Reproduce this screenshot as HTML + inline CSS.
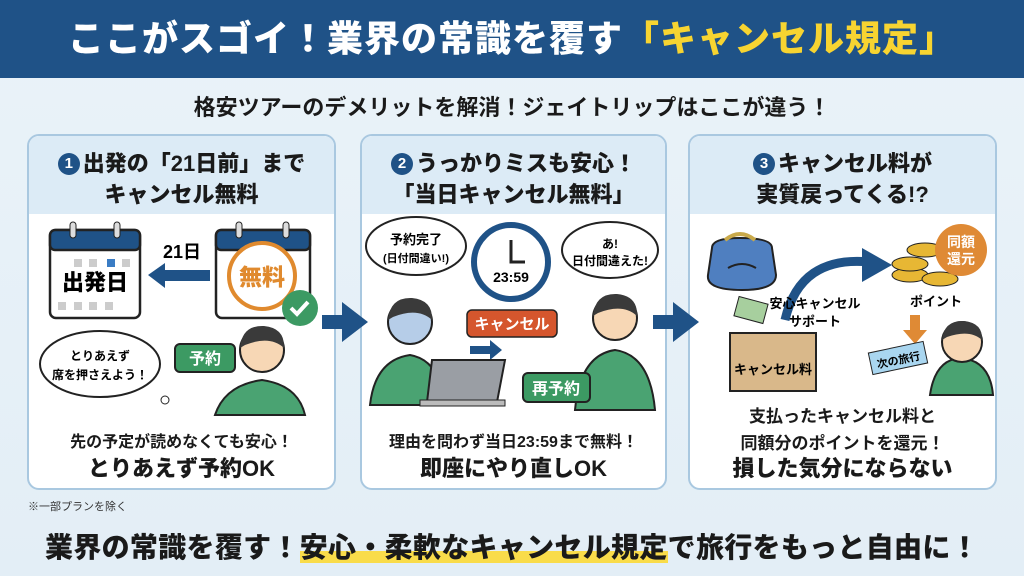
<!DOCTYPE html>
<html><head><meta charset="utf-8">
<style>
*{margin:0;padding:0;box-sizing:border-box}
body{width:1024px;height:576px;overflow:hidden;background:linear-gradient(#eaf3f9,#e3eef6);font-family:"Liberation Sans","Noto Sans CJK JP",sans-serif;position:relative;color:#1a1a1a}
.hdr{position:absolute;left:0;top:0;width:1024px;height:78px;background:#1f5287;color:#fff;font-weight:900;font-size:36px;text-align:center;line-height:78px;letter-spacing:1px}
.hdr span{color:#f7d431}
.sub{position:absolute;left:0;top:90px;width:1024px;text-align:center;font-size:22px;font-weight:700}
.card{position:absolute;top:134px;height:356px;border:2px solid #a9c8e0;border-radius:12px;background:#fff;overflow:hidden}
.card .h{height:78px;background:#dcebf6;text-align:center;font-size:22px;font-weight:800;line-height:31px;padding-top:12px}
.num{display:inline-block;width:22px;height:22px;border-radius:50%;background:#1f5287;color:#fff;font-size:15px;line-height:22px;vertical-align:3px;margin-right:3px}
.t{position:absolute;left:0;width:100%;text-align:center;font-weight:700}
.s{font-size:16px}.b{font-size:22px;font-weight:800}
svg{position:absolute;left:0;top:0}
.note{position:absolute;left:28px;top:498px;font-size:11px;color:#333}
.foot{position:absolute;left:0;top:526px;width:1024px;text-align:center;font-size:28px;font-weight:900;letter-spacing:0.3px}
.foot span{background:linear-gradient(transparent 62%,#f9dc4a 62%)}
</style></head><body>
<div class="hdr">ここがスゴイ！業界の常識を覆す<span>「キャンセル規定」</span></div>
<div class="sub">格安ツアーのデメリットを解消！ジェイトリップはここが違う！</div>

<div class="card" style="left:27px;width:309px"><div class="h"><span class="num">1</span>出発の「21日前」まで<br>キャンセル無料</div>
<div class="t s" style="top:292px">先の予定が読めなくても安心！</div>
<div class="t b" style="top:315px">とりあえず予約OK</div></div>

<div class="card" style="left:360px;width:307px"><div class="h"><span class="num">2</span>うっかりミスも安心！<br>「当日キャンセル無料」</div>
<div class="t s" style="top:292px">理由を問わず当日23:59まで無料！</div>
<div class="t b" style="top:315px">即座にやり直しOK</div></div>

<div class="card" style="left:688px;width:309px"><div class="h"><span class="num">3</span>キャンセル料が<br>実質戻ってくる!?</div>
<div class="t s" style="top:266px;font-size:17px">支払ったキャンセル料と</div>
<div class="t s" style="top:293px;font-size:17px">同額分のポイントを還元！</div>
<div class="t b" style="top:315px">損した気分にならない</div></div>

<svg width="1024" height="576" font-family="Liberation Sans, Noto Sans CJK JP, sans-serif" font-weight="700">
<!-- card1 -->
<rect x="50" y="230" width="90" height="88" rx="6" fill="#fff" stroke="#222" stroke-width="2.5"/>
<rect x="50" y="230" width="90" height="20" rx="5" fill="#1f5287" stroke="#222" stroke-width="2.5"/>
<rect x="70" y="222" width="6" height="16" rx="3" fill="#ddd" stroke="#222"/><rect x="114" y="222" width="6" height="16" rx="3" fill="#ddd" stroke="#222"/>
<g fill="#ccc"><rect x="74" y="259" width="8" height="8"/><rect x="89" y="259" width="8" height="8"/><rect x="122" y="259" width="8" height="8"/><rect x="58" y="302" width="8" height="8"/><rect x="74" y="302" width="8" height="8"/><rect x="89" y="302" width="8" height="8"/><rect x="105" y="302" width="8" height="8"/></g>
<text x="95" y="290" font-size="22" text-anchor="middle" font-weight="900">出発日</text>
<rect x="107" y="259" width="8" height="8" fill="#3a7cc4"/>
<text x="182" y="258" font-size="18" text-anchor="middle">21日</text>
<polygon points="148,275 165,263 165,270 210,270 210,281 165,281 165,288" fill="#1f5287"/>
<rect x="216" y="230" width="94" height="88" rx="6" fill="#fff" stroke="#222" stroke-width="2.5"/>
<rect x="216" y="230" width="94" height="20" rx="5" fill="#1f5287" stroke="#222" stroke-width="2.5"/>
<rect x="236" y="222" width="6" height="16" rx="3" fill="#ddd" stroke="#222"/><rect x="283" y="222" width="6" height="16" rx="3" fill="#ddd" stroke="#222"/>
<circle cx="262" cy="276" r="33" fill="#fff" stroke="#e08a2e" stroke-width="4"/>
<text x="262" y="285" font-size="23" fill="#e08a2e" text-anchor="middle" font-weight="900">無料</text>
<circle cx="300" cy="308" r="18" fill="#3c9a63"/><path d="M291 308l6 6 11-12" stroke="#fff" stroke-width="4" fill="none"/>
<ellipse cx="100" cy="364" rx="60" ry="33" fill="#fff" stroke="#222" stroke-width="2"/><circle cx="165" cy="400" r="4" fill="#fff" stroke="#222"/>
<text x="100" y="360" font-size="12" text-anchor="middle">とりあえず</text><text x="100" y="379" font-size="12" text-anchor="middle">席を押さえよう！</text>
<rect x="175" y="344" width="60" height="28" rx="5" fill="#3c9a63" stroke="#222" stroke-width="2"/><text x="205" y="364" font-size="16" fill="#fff" text-anchor="middle">予約</text>
<path d="M215 415 Q225 385 262 380 Q298 385 305 415Z" fill="#4aa372" stroke="#222" stroke-width="2"/>
<circle cx="262" cy="350" r="22" fill="#f7d7b5" stroke="#222" stroke-width="2"/><path d="M240 348 Q242 325 264 326 Q285 328 284 348 Q270 335 245 345Z" fill="#3a3a3a"/>
<polygon points="322,315 342,315 342,302 368,322 342,342 342,329 322,329" fill="#1f5287"/>
<polygon points="653,315 673,315 673,302 699,322 673,342 673,329 653,329" fill="#1f5287"/>
<!-- card2 -->
<ellipse cx="416" cy="246" rx="50" ry="29" fill="#fff" stroke="#222" stroke-width="2"/>
<text x="416" y="244" font-size="13" text-anchor="middle">予約完了</text><text x="416" y="262" font-size="11" text-anchor="middle">(日付間違い!)</text>
<circle cx="511" cy="262" r="37" fill="#fff" stroke="#1f5287" stroke-width="6"/><path d="M511 240v22h14" stroke="#222" stroke-width="3" fill="none"/>
<text x="511" y="282" font-size="14" text-anchor="middle">23:59</text>
<ellipse cx="610" cy="250" rx="48" ry="28" fill="#fff" stroke="#222" stroke-width="2"/>
<text x="610" y="248" font-size="12" text-anchor="middle">あ!</text><text x="610" y="265" font-size="12" text-anchor="middle">日付間違えた!</text>
<rect x="467" y="310" width="90" height="27" rx="5" fill="#d5562d" stroke="#222" stroke-width="1.5"/><text x="512" y="329" font-size="15" fill="#fff" text-anchor="middle">キャンセル</text>
<polygon points="470,346 490,346 490,340 502,350 490,360 490,354 470,354" fill="#1f5287"/>
<path d="M370 405 Q375 360 410 355 Q440 360 445 405Z" fill="#4aa372" stroke="#222" stroke-width="2"/>
<circle cx="410" cy="322" r="22" fill="#b6cde8" stroke="#222" stroke-width="2"/><path d="M388 320 Q390 297 412 298 Q433 300 432 320 Q418 307 393 317Z" fill="#3a3a3a"/>
<polygon points="432,360 505,360 497,402 427,402" fill="#9a9ea4" stroke="#222" stroke-width="2"/><rect x="420" y="400" width="85" height="6" fill="#bbb" stroke="#222"/>
<path d="M575 410 Q580 355 615 350 Q650 355 655 410Z" fill="#4aa372" stroke="#222" stroke-width="2"/>
<circle cx="615" cy="318" r="22" fill="#f7d7b5" stroke="#222" stroke-width="2"/><path d="M593 316 Q595 293 617 294 Q638 296 637 316 Q623 303 598 313Z" fill="#3a3a3a"/>
<rect x="523" y="373" width="67" height="29" rx="5" fill="#3c9a63" stroke="#222" stroke-width="2"/><text x="556" y="394" font-size="16" fill="#fff" text-anchor="middle">再予約</text>
<!-- card3 -->
<path d="M712 248 Q712 238 740 238 Q772 238 772 248 L776 275 Q776 290 742 290 Q706 290 708 275Z" fill="#4f7fc0" stroke="#222" stroke-width="2"/>
<path d="M725 240 Q740 228 755 240" stroke="#c9a94a" stroke-width="4" fill="none"/>
<path d="M728 268 Q742 260 756 268" stroke="#222" stroke-width="2" fill="none"/>
<rect x="736" y="300" width="30" height="20" fill="#a7cf9e" stroke="#222" transform="rotate(15 751 310)"/>
<rect x="730" y="333" width="86" height="58" fill="#d9b88a" stroke="#222" stroke-width="2"/>
<text x="773" y="374" font-size="13" text-anchor="middle">キャンセル料</text>
<path d="M785 320 Q800 255 870 262" stroke="#1f5287" stroke-width="9" fill="none"/><polygon points="862,248 892,265 862,282" fill="#1f5287"/>
<text x="815" y="308" font-size="13" text-anchor="middle">安心キャンセル</text><text x="815" y="326" font-size="13" text-anchor="middle">サポート</text>
<ellipse cx="910" cy="275" rx="18" ry="7" fill="#e7b734" stroke="#222"/><ellipse cx="910" cy="264" rx="18" ry="7" fill="#e7b734" stroke="#222"/><ellipse cx="925" cy="250" rx="18" ry="7" fill="#e7b734" stroke="#222"/><ellipse cx="940" cy="279" rx="18" ry="7" fill="#e7b734" stroke="#222"/>
<circle cx="961" cy="250" r="26" fill="#df8a35"/><text x="961" y="247" font-size="14" fill="#fff" text-anchor="middle">同額</text><text x="961" y="264" font-size="14" fill="#fff" text-anchor="middle">還元</text>
<text x="936" y="306" font-size="13" text-anchor="middle">ポイント</text>
<polygon points="910,315 920,315 920,330 927,330 915,344 903,330 910,330" fill="#df8a35"/>
<path d="M930 395 Q935 360 960 358 Q990 360 993 395Z" fill="#4aa372" stroke="#222" stroke-width="2"/>
<circle cx="962" cy="342" r="20" fill="#f7d7b5" stroke="#222" stroke-width="2"/><path d="M942 340 Q944 320 964 321 Q983 323 982 340 Q970 329 947 337Z" fill="#3a3a3a"/>
<rect x="870" y="347" width="56" height="22" fill="#a9d6f0" stroke="#222" transform="rotate(-12 898 358)"/><text x="898" y="364" font-size="11" text-anchor="middle" transform="rotate(-12 898 358)">次の旅行</text>
</svg>
<div class="note">※一部プランを除く</div>
<div class="foot">業界の常識を覆す！<span>安心・柔軟なキャンセル規定</span>で旅行をもっと自由に！</div>
</body></html>
